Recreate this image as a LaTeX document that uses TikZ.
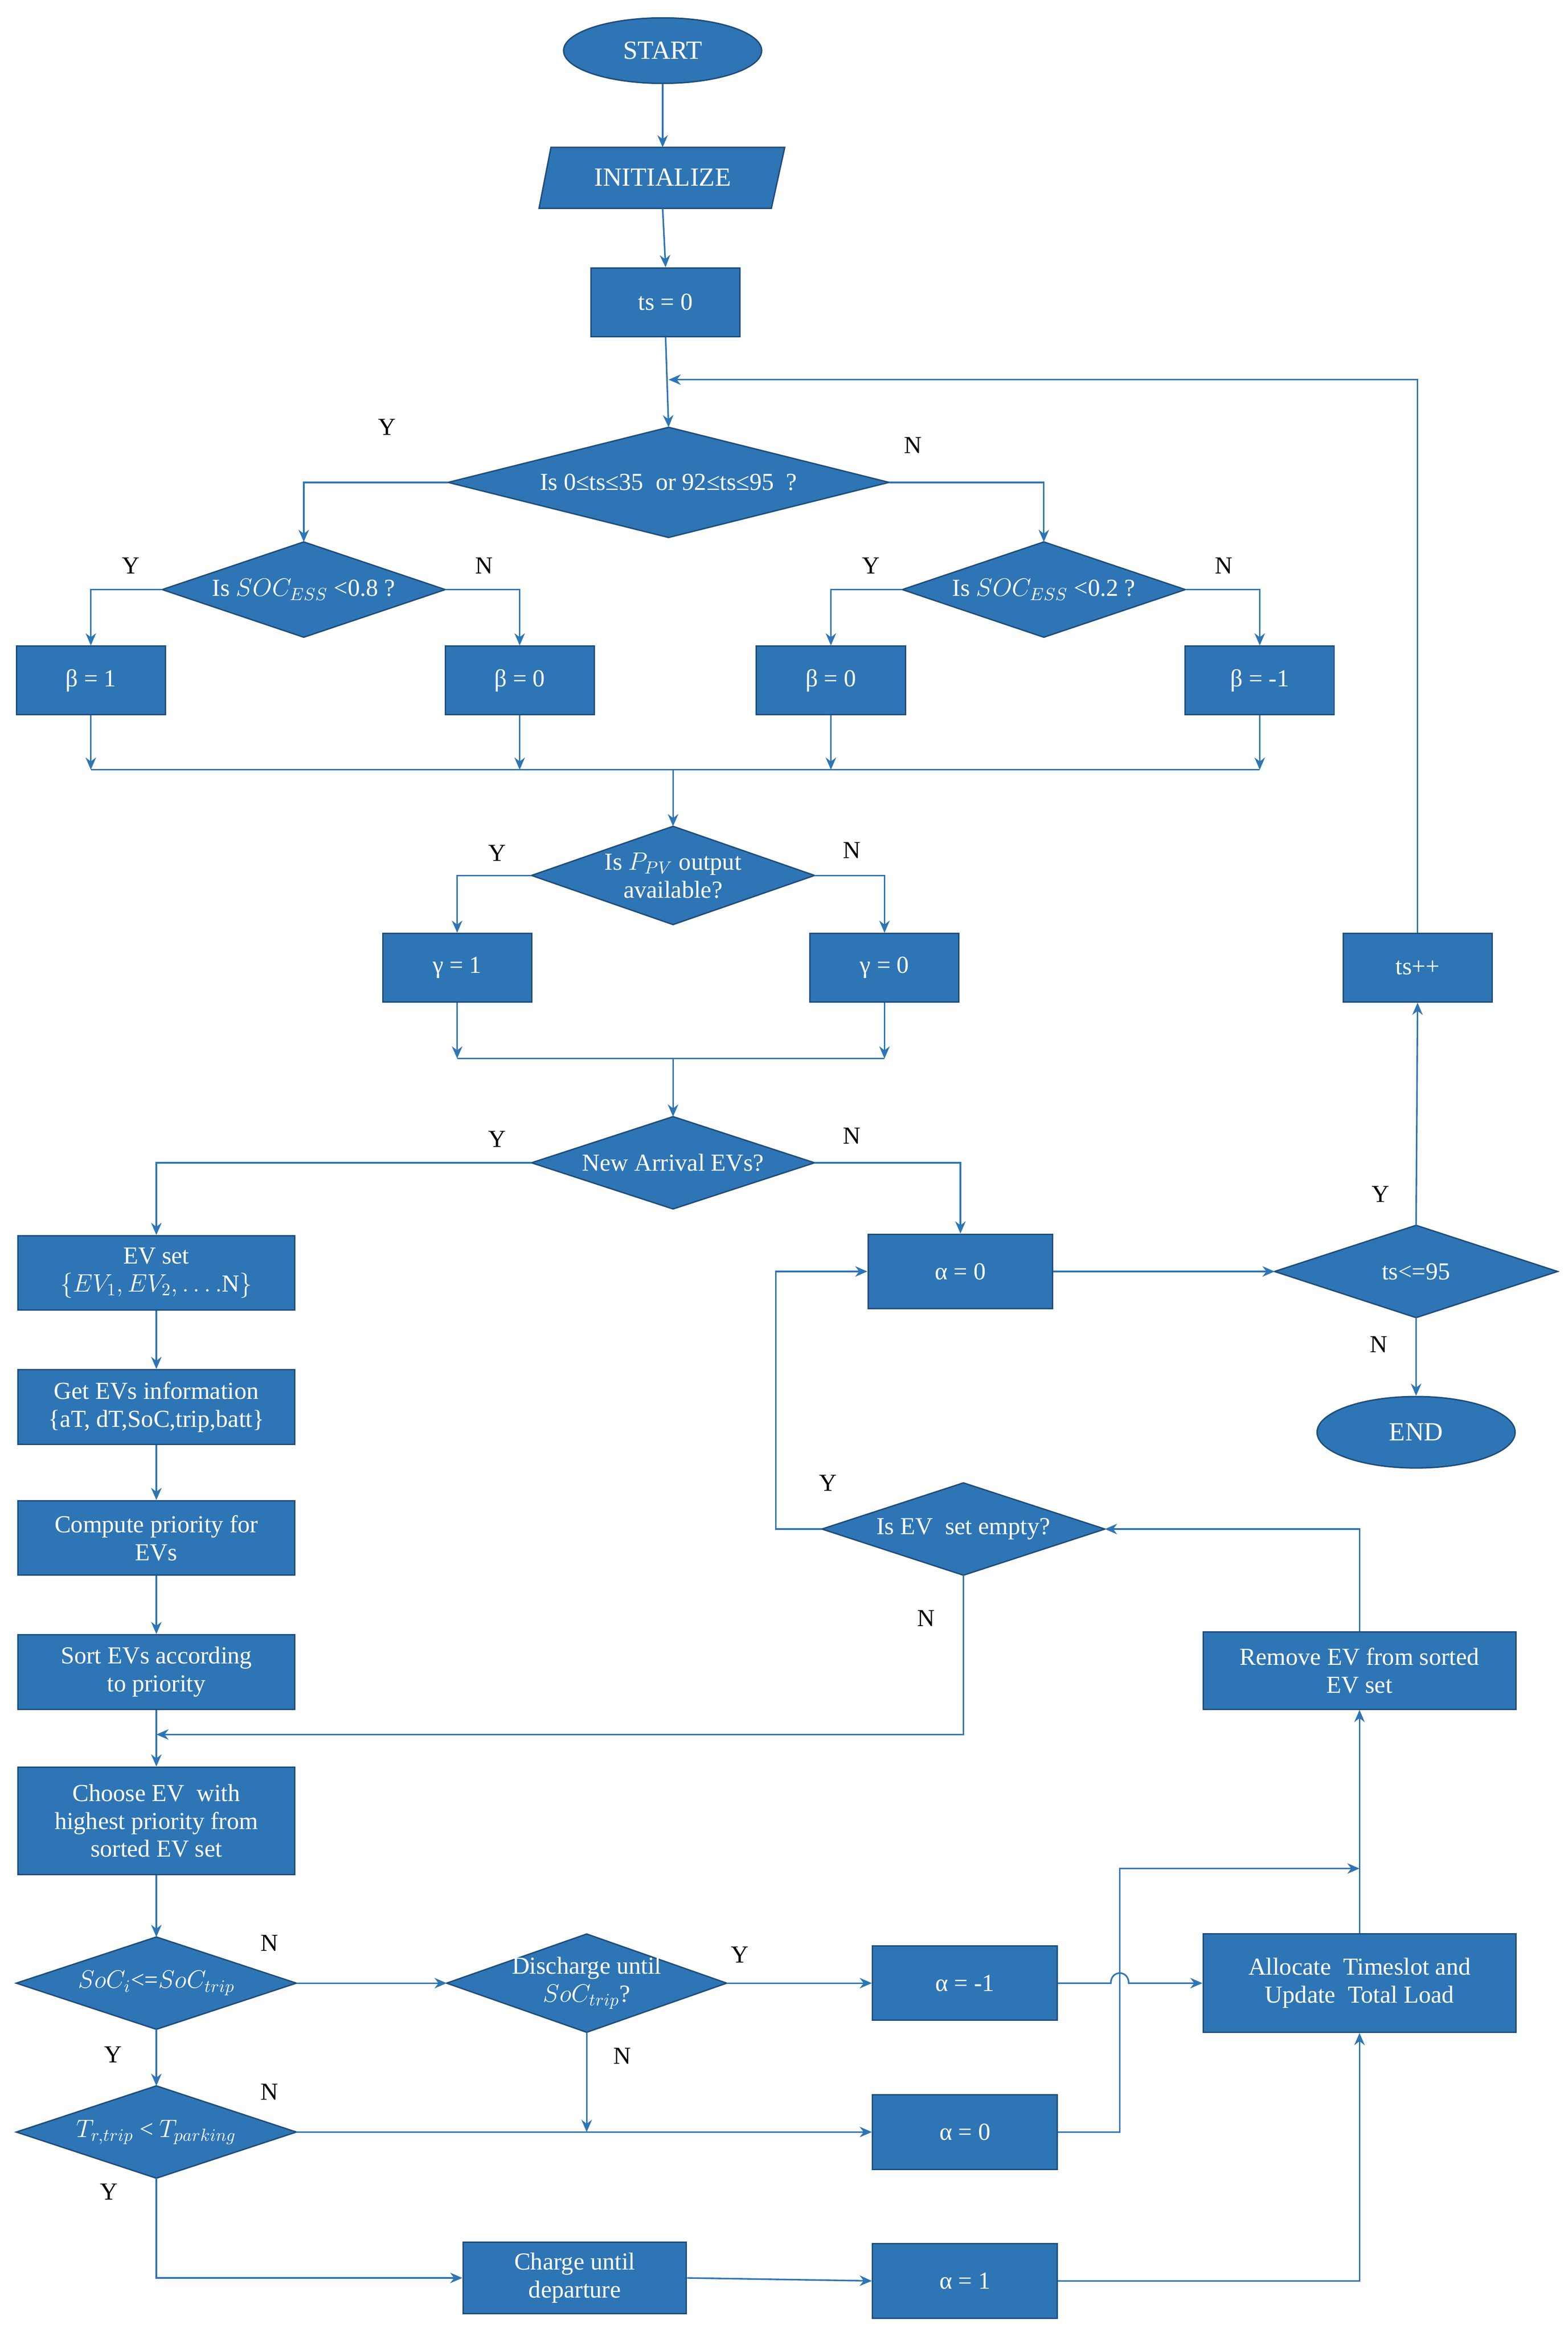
\documentclass[tikz,border=0pt]{standalone}
\usepackage{fontspec}
\setmainfont{Liberation Serif}
\usetikzlibrary{shapes.geometric,arrows.meta}
\definecolor{bfill}{HTML}{2E75B6}
\definecolor{bedge}{HTML}{1F4E79}
\definecolor{lcol}{HTML}{2E75B6}
\tikzset{
 box/.style={rectangle,fill=bfill,draw=bedge,line width=0.8pt,text=white,align=center,inner sep=1pt,font=\fontsize{14}{16}\selectfont},
 dia/.style={fill=bfill,draw=bedge,line width=0.8pt},
 dtext/.style={text=white,align=center,inner sep=0pt,font=\fontsize{14}{16}\selectfont},
 ln/.style={draw=lcol,line width=0.9pt},
 arr/.style={ln,-{Stealth[length=7pt,width=6pt]}},
 lab/.style={font=\fontsize{14}{16}\selectfont,text=black}
}
\newcommand\bx[6]{\node[box,minimum width=#4*0.03cm,minimum height=#5*0.03cm] (#1) at (#2,#3) {#6};}
\newcommand\dia[6]{\draw[dia] (#2-#4/2,#3) -- (#2,#3-#5/2) -- (#2+#4/2,#3) -- (#2,#3+#5/2) -- cycle;
 \node[dtext] (#1) at (#2,#3) {#6};
 \coordinate (#1-l) at (#2-#4/2,#3); \coordinate (#1-r) at (#2+#4/2,#3);
 \coordinate (#1-t) at (#2,#3-#5/2); \coordinate (#1-b) at (#2,#3+#5/2);}
\begin{document}
\begin{tikzpicture}[x=0.03cm,y=-0.03cm]
\useasboundingbox (0,0) rectangle (1053,1567);
% start / init
\node[ellipse,fill=bfill,draw=bedge,line width=0.8pt,text=white,minimum width=133*0.03cm,minimum height=44*0.03cm,font=\fontsize{15}{16}\selectfont] (start) at (445,34) {START};
\draw[dia] (370,99) -- (527,99) -- (518,140) -- (362,140) -- cycle;
\node[dtext,font=\fontsize{15}{16}\selectfont] (init) at (445,119) {INITIALIZE};
\coordinate (init-t) at (445,99); \coordinate (init-b) at (445,140);
\bx{ts0}{447}{203}{100}{46}{ts = 0}
\dia{d1}{449}{324}{296}{74}{Is 0≤ts≤35~ or 92≤ts≤95~ ?}
\dia{d2}{204}{396}{190}{64}{Is $SOC_{ESS}$ <0.8 ?}
\dia{d3}{701}{396}{190}{64}{Is $SOC_{ESS}$ <0.2 ?}
\bx{b1}{61}{457}{100}{46}{β = 1}
\bx{b2}{349}{457}{100}{46}{β = 0}
\bx{b3}{558}{457}{100}{46}{β = 0}
\bx{b4}{846}{457}{100}{46}{β = -1}
\dia{d4}{452}{588}{190}{66}{Is $P_{PV}$ output\\available?}
\bx{g1}{307}{650}{100}{46}{γ = 1}
\bx{g0}{594}{650}{100}{46}{γ = 0}
\dia{d5}{452}{781}{190}{62}{New Arrival EVs?}
\bx{evs}{105}{855}{186}{50}{EV set\\$\{EV_1,EV_2,\ldots.\mathrm{N}\}$}
\bx{a0}{645}{854}{124}{50}{α = 0}
\dia{d6}{951}{854}{190}{62}{ts<=95}
\node[ellipse,fill=bfill,draw=bedge,line width=0.8pt,text=white,minimum width=133*0.03cm,minimum height=48*0.03cm,font=\fontsize{15}{16}\selectfont] (end) at (951,962) {END};
\bx{tsp}{952}{650}{100}{46}{ts++}
\bx{get}{105}{945}{186}{50}{Get EVs information\\\{aT, dT,SoC,trip,batt\}}
\bx{comp}{105}{1033}{186}{50}{Compute priority for\\EVs}
\bx{sort}{105}{1123}{186}{50}{Sort EVs according\\to priority}
\bx{choose}{105}{1223}{186}{72}{Choose EV~ with\\highest priority from\\sorted EV set}
\dia{d7}{647}{1027}{190}{62}{Is EV~ set empty?}
\bx{rem}{913}{1122}{210}{52}{Remove EV from sorted\\EV set}
\dia{d8}{105}{1332}{188}{62}{$SoC_i$<=$SoC_{trip}$}
\dia{d9}{394}{1332}{188}{66}{Discharge until\\$SoC_{trip}$?}
\bx{am1}{648}{1332}{124}{50}{α = -1}
\bx{alloc}{913}{1332}{210}{66}{Allocate~ Timeslot and\\Update~ Total Load}
\dia{d10}{105}{1432}{188}{62}{$T_{r,trip}$ < $T_{parking}$}
\bx{a0b}{648}{1432}{124}{50}{α = 0}
\bx{charge}{386}{1530}{150}{48}{Charge until\\departure}
\bx{a1}{648}{1532}{124}{50}{α = 1}
% connectors top
\draw[arr] (start.south) -- (init-t);
\draw[arr] (init-b) -- (ts0.north);
\draw[arr] (ts0.south) -- (d1-t);
\coordinate (loop) at (449,255);
\draw[arr] (tsp.north) |- (loop);
\draw[arr] (d1-l) -| (d2-t);
\draw[arr] (d1-r) -| (d3-t);
\draw[arr] (d2-l) -| (b1.north);
\draw[arr] (d2-r) -| (b2.north);
\draw[arr] (d3-l) -| (b3.north);
\draw[arr] (d3-r) -| (b4.north);
\coordinate (mJ) at (452,517);
\foreach \b in {b1,b2,b3,b4}{\draw[arr] (\b.south) -- (\b.south |- mJ);}
\draw[ln] (b1.south |- mJ) -- (b4.south |- mJ);
\draw[arr] (mJ) -- (d4-t);
\draw[arr] (d4-l) -| (g1.north);
\draw[arr] (d4-r) -| (g0.north);
\coordinate (gJ) at (452,711);
\draw[arr] (g1.south) -- (g1.south |- gJ);
\draw[arr] (g0.south) -- (g0.south |- gJ);
\draw[ln] (g1.south |- gJ) -- (g0.south |- gJ);
\draw[arr] (gJ) -- (d5-t);
\draw[arr] (d5-l) -| (evs.north);
\draw[arr] (d5-r) -| (a0.north);
\draw[arr] (a0.east) -- (d6-l);
\draw[arr] (d6-t) -- (tsp.south);
\draw[arr] (d6-b) -- (end.north);
% left column
\draw[arr] (evs.south) -- (get.north);
\draw[arr] (get.south) -- (comp.north);
\draw[arr] (comp.south) -- (sort.north);
\draw[arr] (sort.south) -- (choose.north);
\coordinate (cj) at (105,1165);
\draw[arr] (d7-b) |- (cj);
\draw[arr] (d7-l) -- ++(-31,0) |- (a0.west);
\draw[arr] (rem.north) |- (d7-r);
\draw[arr] (alloc.north) -- (rem.south);
\draw[arr] (choose.south) -- (d8-t);
\draw[arr] (d8-r) -- (d9-l);
\draw[arr] (d8-b) -- (d10-t);
\draw[arr] (d9-r) -- (am1.west);
\draw[arr] (d9-b) -- (d9-b |- a0b.west);
\draw[arr] (d10-r) -- (a0b.west);
\draw[arr] (d10-b) |- (charge.west);
\draw[arr] (charge.east) -- (a1.west);
\draw[arr] (a1.east) -| (alloc.south);
\draw[arr] (am1.east) -- (746,1332) .. controls (746,1323) and (758,1323) .. (758,1332) -- (alloc.west);
\coordinate (up1) at (913,1255);
\draw[arr] (a0b.east) -- (752,1432) |- (up1);
% labels
\node[lab] at (260,287) {Y}; \node[lab] at (613,299) {N};
\node[lab] at (88,380) {Y}; \node[lab] at (325,380) {N};
\node[lab] at (585,380) {Y}; \node[lab] at (822,380) {N};
\node[lab] at (334,573) {Y}; \node[lab] at (572,571) {N};
\node[lab] at (334,765) {Y}; \node[lab] at (572,763) {N};
\node[lab] at (927,802) {Y}; \node[lab] at (926,903) {N};
\node[lab] at (556,996) {Y}; \node[lab] at (622,1087) {N};
\node[lab] at (181,1305) {N}; \node[lab] at (76,1380) {Y};
\node[lab] at (497,1313) {Y}; \node[lab] at (418,1381) {N};
\node[lab] at (181,1405) {N}; \node[lab] at (73,1472) {Y};
\end{tikzpicture}
\end{document}
